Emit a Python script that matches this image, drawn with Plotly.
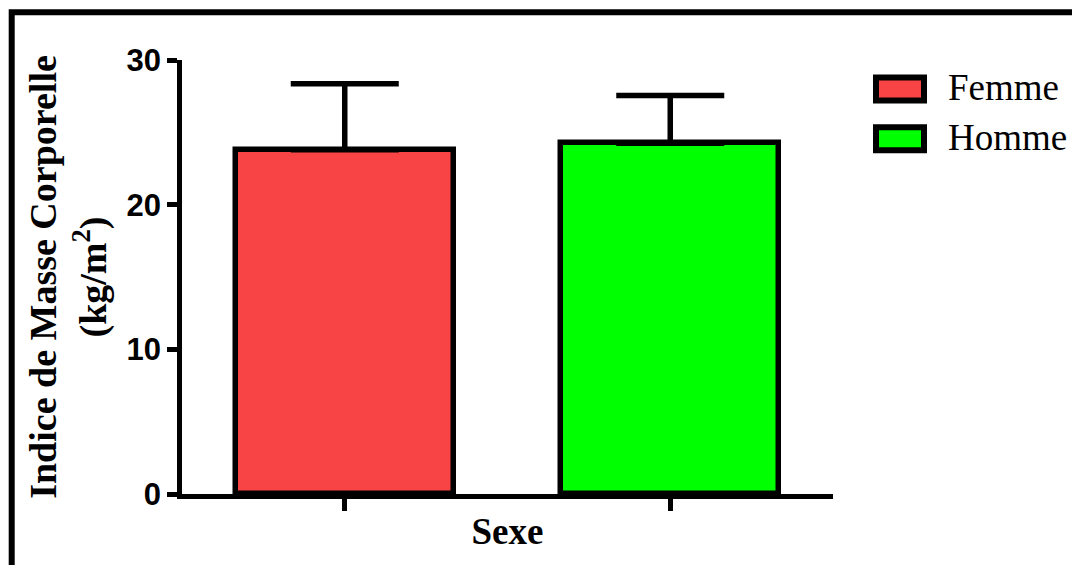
import plotly.graph_objects as go

# Body mass index by sex (mean and standard deviation)
categories = ["Femme", "Homme"]
imc_mean = [23.8, 24.25]
imc_sd = [4.55, 3.3]
bar_colors = ["#F84444", "#00FF00"]
y_ticks = [0, 10, 20, 30]

W, H = 1072, 565
ML, MR, MT, MB = 182, 239, 59.5, 70.5
PW, PH = W - ML - MR, H - MT - MB


def px_x(x):
    return (x - ML) / PW


def px_y(y):
    return (H - MB - y) / PH


fig = go.Figure()
for i, (name, m, sd, col) in enumerate(zip(categories, imc_mean, imc_sd, bar_colors)):
    fig.add_trace(go.Bar(
        x=[i], y=[m], name=name, width=0.67,
        marker=dict(color=col, line=dict(color="black", width=5.5)),
        error_y=dict(type="data", symmetric=False, array=[sd], arrayminus=[0],
                     color="black", thickness=5.5, width=54),
        showlegend=False,
    ))

serif = "Liberation Serif, Times New Roman, serif"
sans = "Liberation Sans, Arial, sans-serif"

fig.update_layout(
    width=W, height=H,
    margin=dict(l=ML, r=MR, t=MT, b=MB, pad=0),
    paper_bgcolor="white", plot_bgcolor="white",
    bargap=0,
    xaxis=dict(
        range=[-0.5, 1.5], tickmode="array", tickvals=[0, 1],
        showticklabels=False, ticks="outside", ticklen=12, tickwidth=4.5, tickcolor="black",
        showline=True, linecolor="black", linewidth=4.5, showgrid=False, zeroline=False,
        title=dict(text="<b>Sexe</b>", font=dict(family=serif, size=37, color="black"), standoff=10),
    ),
    yaxis=dict(
        range=[0, 30], tickmode="array", tickvals=y_ticks,
        ticks="outside", ticklen=10, tickwidth=4.5, tickcolor="black",
        tickfont=dict(family=sans, size=31, color="black", weight="bold"),
        showline=True, linecolor="black", linewidth=4.5, showgrid=False, zeroline=False,
        title=dict(text="<b>Indice de Masse Corporelle<br>(kg/m<sup>2</sup>)</b>",
                   font=dict(family=serif, size=38, color="black"), standoff=10),
    ),
)

# outer frame (top and left edges visible)
fig.add_shape(type="rect", xref="paper", yref="paper",
              x0=px_x(11.7), x1=px_x(1200), y0=px_y(700), y1=px_y(11.7),
              line=dict(color="black", width=6), fillcolor="rgba(0,0,0,0)")

# legend: outlined colour swatches with labels
sw_rows = [(77, 100), (127, 150)]
for (y0, y1), name, col in zip(sw_rows, categories, bar_colors):
    fig.add_shape(type="rect", xref="paper", yref="paper",
                  x0=px_x(876), x1=px_x(924), y0=px_y(y1), y1=px_y(y0),
                  line=dict(color="black", width=6), fillcolor=col)
    fig.add_annotation(xref="paper", yref="paper", x=px_x(946), y=px_y((y0 + y1) / 2 - 1),
                       xanchor="left", yanchor="middle", showarrow=False,
                       text=name, font=dict(family=serif, size=37, color="black"))

fig.write_html("out.html")
